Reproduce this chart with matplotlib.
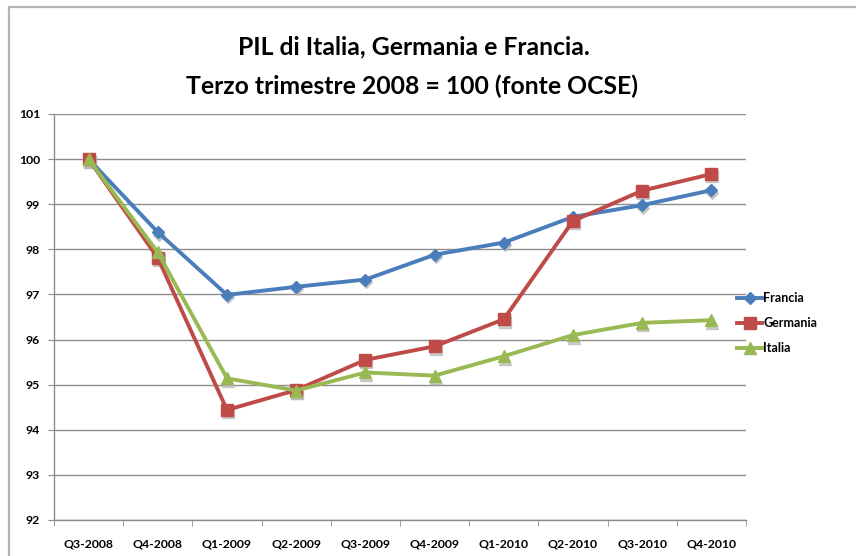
import numpy as np
import matplotlib.pyplot as plt
from matplotlib.transforms import offset_copy
from matplotlib.patches import Rectangle

quarters = ['Q3-2008', 'Q4-2008', 'Q1-2009', 'Q2-2009', 'Q3-2009',
            'Q4-2009', 'Q1-2010', 'Q2-2010', 'Q3-2010', 'Q4-2010']
francia = [100.0, 98.38, 96.99, 97.17, 97.33, 97.88, 98.15, 98.72, 98.98, 99.31]
germania = [100.0, 97.81, 94.44, 94.88, 95.55, 95.85, 96.45, 98.63, 99.30, 99.67]
italia = [100.0, 97.93, 95.14, 94.87, 95.27, 95.20, 95.63, 96.10, 96.37, 96.43]

plt.rcParams['font.family'] = ['Lato', 'DejaVu Sans']

fig = plt.figure(figsize=(8.56, 5.56), dpi=100)
W, H = 856, 556
ax = fig.add_axes([54 / W, 1 - 520 / H, (746 - 54) / W, (520 - 114) / H])

# chart border (cropped on right and bottom)
fig.patches.append(Rectangle((8.5 / W, -0.1), 2, 1.1 - 6.5 / H, transform=fig.transFigure,
                             fill=False, edgecolor='#b3b3b3', linewidth=1.6))

x = np.arange(len(quarters))
series = [
    ('Francia', francia, '#4a7ebb', 'D', 6),
    ('Germania', germania, '#be4b48', 's', 8),
    ('Italia', italia, '#98b954', '^', 8),
]

shadow = offset_copy(ax.transData, fig=fig, x=1, y=-2.5, units='dots')
for name, vals, col, mk, ms in series:
    ax.plot(x, vals, linestyle='none', marker=mk, markersize=ms, color='#b8b8b8',
            alpha=0.7, transform=shadow, zorder=2)
for name, vals, col, mk, ms in series:
    ax.plot(x, vals, color=col, linewidth=2.8, marker=mk, markersize=ms,
            markeredgecolor=col, label=name, zorder=3)

ax.set_xlim(-0.5, len(quarters) - 0.5)
ax.set_ylim(92, 101)
ax.set_yticks(np.arange(92, 102, 1))
ax.yaxis.grid(True, color='#8c8c8c', linewidth=1)
ax.set_axisbelow(True)

ax.set_xticks(x)
ax.set_xticklabels(quarters)
ax.set_xticks(np.arange(-0.5, len(quarters), 1), minor=True)
ax.tick_params(axis='x', which='major', length=0, pad=13)
ax.tick_params(axis='x', which='minor', length=4, color='#8c8c8c', direction='out')
ax.tick_params(axis='y', length=4, color='#8c8c8c', direction='out', pad=6)
for lab in ax.get_xticklabels() + ax.get_yticklabels():
    lab.set_fontweight('bold')
    lab.set_fontsize(8.8)

for s in ['top', 'right']:
    ax.spines[s].set_visible(False)
for s in ['left', 'bottom']:
    ax.spines[s].set_color('#8c8c8c')
    ax.spines[s].set_linewidth(1)

fig.text(414 / W, 1 - 47 / H, 'PIL di Italia, Germania e Francia.', ha='center', va='center',
         fontsize=17.8, fontweight='bold')
fig.text(412 / W, 1 - 86 / H, 'Terzo trimestre 2008 = 100 (fonte OCSE)', ha='center', va='center',
         fontsize=17.8, fontweight='bold')

leg = fig.legend(loc='center left', bbox_to_anchor=(726 / W, 1 - 323 / H), frameon=False,
                 handlelength=2.0, handletextpad=0.1, labelspacing=1.05,
                 prop={'weight': 'bold', 'size': 9})

fig.savefig('out.png', dpi=100)
